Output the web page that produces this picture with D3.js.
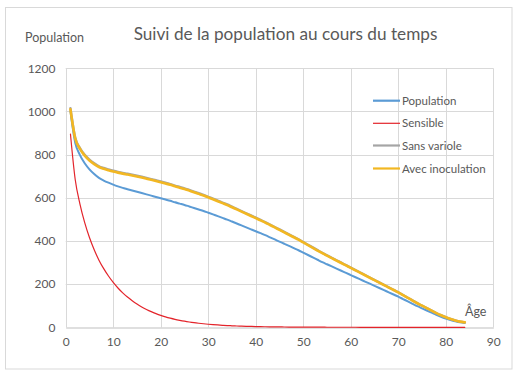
<!DOCTYPE html>
<html>
<head>
<meta charset="utf-8">
<script src="https://cdn.jsdelivr.net/npm/d3@7"></script>
<style>
  html, body { margin: 0; padding: 0; background: #fff; }
  svg { display: block; }
  text { font-family: Lato, "Liberation Sans", sans-serif; fill: #595959; }
</style>
</head>
<body>
<svg id="chart" width="522" height="380"></svg>
<script>
// ---- data ----
const ages = [1,2,3,4,5,6,7,8,9,10,11,12,13,14,15,16,17,18,19,20,21,22,23,24,25,26,27,28,29,30,
  31,32,33,34,35,36,37,38,39,40,41,42,43,44,45,46,47,48,49,50,51,52,53,54,55,56,57,58,59,60,
  61,62,63,64,65,66,67,68,69,70,71,72,73,74,75,76,77,78,79,80,81,82,83,84];
const population = [1000,855,798,760,732,710,692,680,670,661,653,646,640,634,628,622,616,610,604,598,
  592,586,579,573,567,560,553,546,539,531,523,515,507,499,490,481,472,463,454,445,
  436,427,417,407,397,387,377,367,357,346,335,324,313,302,292,282,272,262,252,242,
  232,222,212,202,192,182,172,162,152,142,131,120,109,98,88,78,68,58,49,41,34,28,23,20];
const sensible = [895.7,684.8,570.8,484.8,416.0,359.1,311.1,271.6,237.6,207.9,182.1,159.6,140.1,122.9,107.7,94.4,82.7,72.4,63.4,55.4,
  48.5,42.4,37.0,32.4,28.3,24.7,21.5,18.8,16.4,14.2,12.4,10.8,9.3,8.1,7.0,6.1,5.3,4.6,4.0,3.4,
  3.0,2.56,2.21,1.90,1.64,1.41,1.21,1.04,0.89,0.76,0.65,0.55,0.47,0.40,0.34,0.29,0.25,0.21,0.18,0.15,
  0.13,0.11,0.09,0.08,0.07,0.06,0.05,0.04,0.035,0.03,0.026,0.021,0.018,0.015,0.012,0.01,0.008,0.007,0.005,0.004,0.003,0.002,0.002,0.001];
const sansVariole = [1014.9,879.3,830.5,799.3,777.1,760.1,746.4,738.3,731.8,725.7,720.3,715.5,711.4,707.0,702.3,697.4,692.2,686.8,681.2,675.5,
  669.6,663.7,656.4,650.2,644.0,636.5,628.9,621.3,613.7,604.8,596.0,587.0,578.1,569.1,559.0,548.9,538.7,528.5,518.3,508.1,
  497.9,487.6,476.3,464.9,453.5,442.1,430.7,419.3,407.8,395.3,382.7,370.2,357.6,345.1,333.6,322.2,310.8,299.4,287.9,276.5,
  265.1,253.7,242.3,230.8,219.4,208.0,196.5,185.1,173.7,162.3,149.7,137.1,124.6,112.0,100.6,89.1,77.7,66.3,56.0,46.9,38.9,32.0,26.3,22.9];
const avecInoculation = [1009.8,874.9,826.3,795.3,773.2,756.3,742.7,734.6,728.1,722.1,716.7,711.9,707.8,703.5,698.8,693.9,688.7,683.4,677.8,672.1,
  666.3,660.4,653.1,646.9,640.8,633.3,625.8,618.2,610.6,601.8,593.0,584.1,575.2,566.3,556.2,546.2,536.0,525.9,515.7,505.6,
  495.4,485.2,473.9,462.6,451.2,439.9,428.5,417.2,405.8,393.3,380.8,368.3,355.8,343.4,331.9,320.6,309.2,297.9,286.5,275.1,
  263.8,252.4,241.1,229.6,218.3,207.0,195.5,184.2,172.8,161.5,149.0,136.4,124.0,111.4,100.1,88.7,77.3,66.0,55.7,46.7,38.7,31.8,26.2,22.8];
const seriesNames = ["Population", "Sensible", "Sans variole", "Avec inoculation"];
const xTicks = [0,10,20,30,40,50,60,70,80,90];
const yTicks = [0,200,400,600,800,1000,1200];
const titleText = "Suivi de la population au cours du temps";
const yAxisTitle = "Population";
const xAxisTitle = "Âge";

// ---- drawing ----
const svg = d3.select("#chart");
const x = d3.scaleLinear().domain([0, 90]).range([65.7, 493.3]);
const y = d3.scaleLinear().domain([0, 1200]).range([327.3, 68.3]);
const FONT = "Lato, 'Liberation Sans', sans-serif";

svg.append("rect").attr("x", 5.5).attr("y", 7.5).attr("width", 506.5).attr("height", 361.5)
  .attr("fill", "#fff").attr("stroke", "#d9d9d9").attr("stroke-width", 1);

// gridlines
const grid = svg.append("g");
grid.selectAll("line.h").data(yTicks.filter(d => d > 0)).join("line")
  .attr("x1", x(0)).attr("x2", x(90))
  .attr("y1", d => Math.round(y(d)) + 0.5).attr("y2", d => Math.round(y(d)) + 0.5)
  .attr("stroke", "#d9d9d9").attr("stroke-width", 1);
grid.selectAll("line.v").data(xTicks).join("line")
  .attr("y1", y(0)).attr("y2", y(1200))
  .attr("x1", d => Math.round(x(d)) + 0.5).attr("x2", d => Math.round(x(d)) + 0.5)
  .attr("stroke", "#d9d9d9").attr("stroke-width", 1);

// axes
const xAxis = svg.append("g").attr("transform", `translate(0,${Math.round(y(0)) + 0.5})`)
  .call(d3.axisBottom(x).tickValues(xTicks).tickFormat(d3.format("d")).tickSize(0).tickPadding(10));
xAxis.select(".domain").attr("stroke", "#bfbfbf");
xAxis.selectAll("text").style("font-size", "12px").attr("fill", "#595959").style("font-family", FONT);

const yAxis = svg.append("g").attr("transform", `translate(${Math.round(x(0)) + 0.5},0)`)
  .call(d3.axisLeft(y).tickValues(yTicks).tickFormat(d3.format("d")).tickSize(0).tickPadding(11));
yAxis.select(".domain").remove();
yAxis.selectAll("text").style("font-size", "12px").attr("fill", "#595959").style("font-family", FONT);

// lines
const seriesData = [population, sensible, sansVariole, avecInoculation];
const colors = ["#5b9bd5", "#e3242b", "#a5a5a5", "#f2b722"];
const widths = [2, 1.2, 2.4, 2.6];
const line = d3.line().x((d, i) => x(ages[i])).y(d => y(d)).curve(d3.curveMonotoneX);
seriesData.forEach((s, k) => {
  svg.append("path").datum(s).attr("d", line)
    .attr("fill", "none").attr("stroke", colors[k]).attr("stroke-width", widths[k])
    .attr("stroke-linejoin", "round").attr("stroke-linecap", "round");
});

// titles
svg.append("text").attr("x", 285.5).attr("y", 40).attr("text-anchor", "middle")
  .style("font-size", "17.2px").text(titleText);
svg.append("text").attr("x", 25).attr("y", 42).style("font-size", "12.5px").text(yAxisTitle);
svg.append("text").attr("x", 465).attr("y", 316).style("font-size", "12.5px").text(xAxisTitle);

// legend
const legendY = [100.7, 123.3, 145.5, 168.5];
const leg = svg.append("g");
seriesNames.forEach((n, k) => {
  leg.append("line").attr("x1", 373).attr("x2", 400).attr("y1", legendY[k]).attr("y2", legendY[k])
    .attr("stroke", colors[k]).attr("stroke-width", k === 1 ? 1.2 : 2.2);
  leg.append("text").attr("x", 402).attr("y", legendY[k] + 4).style("font-size", "11.5px").text(n);
});
</script>
</body>
</html>
